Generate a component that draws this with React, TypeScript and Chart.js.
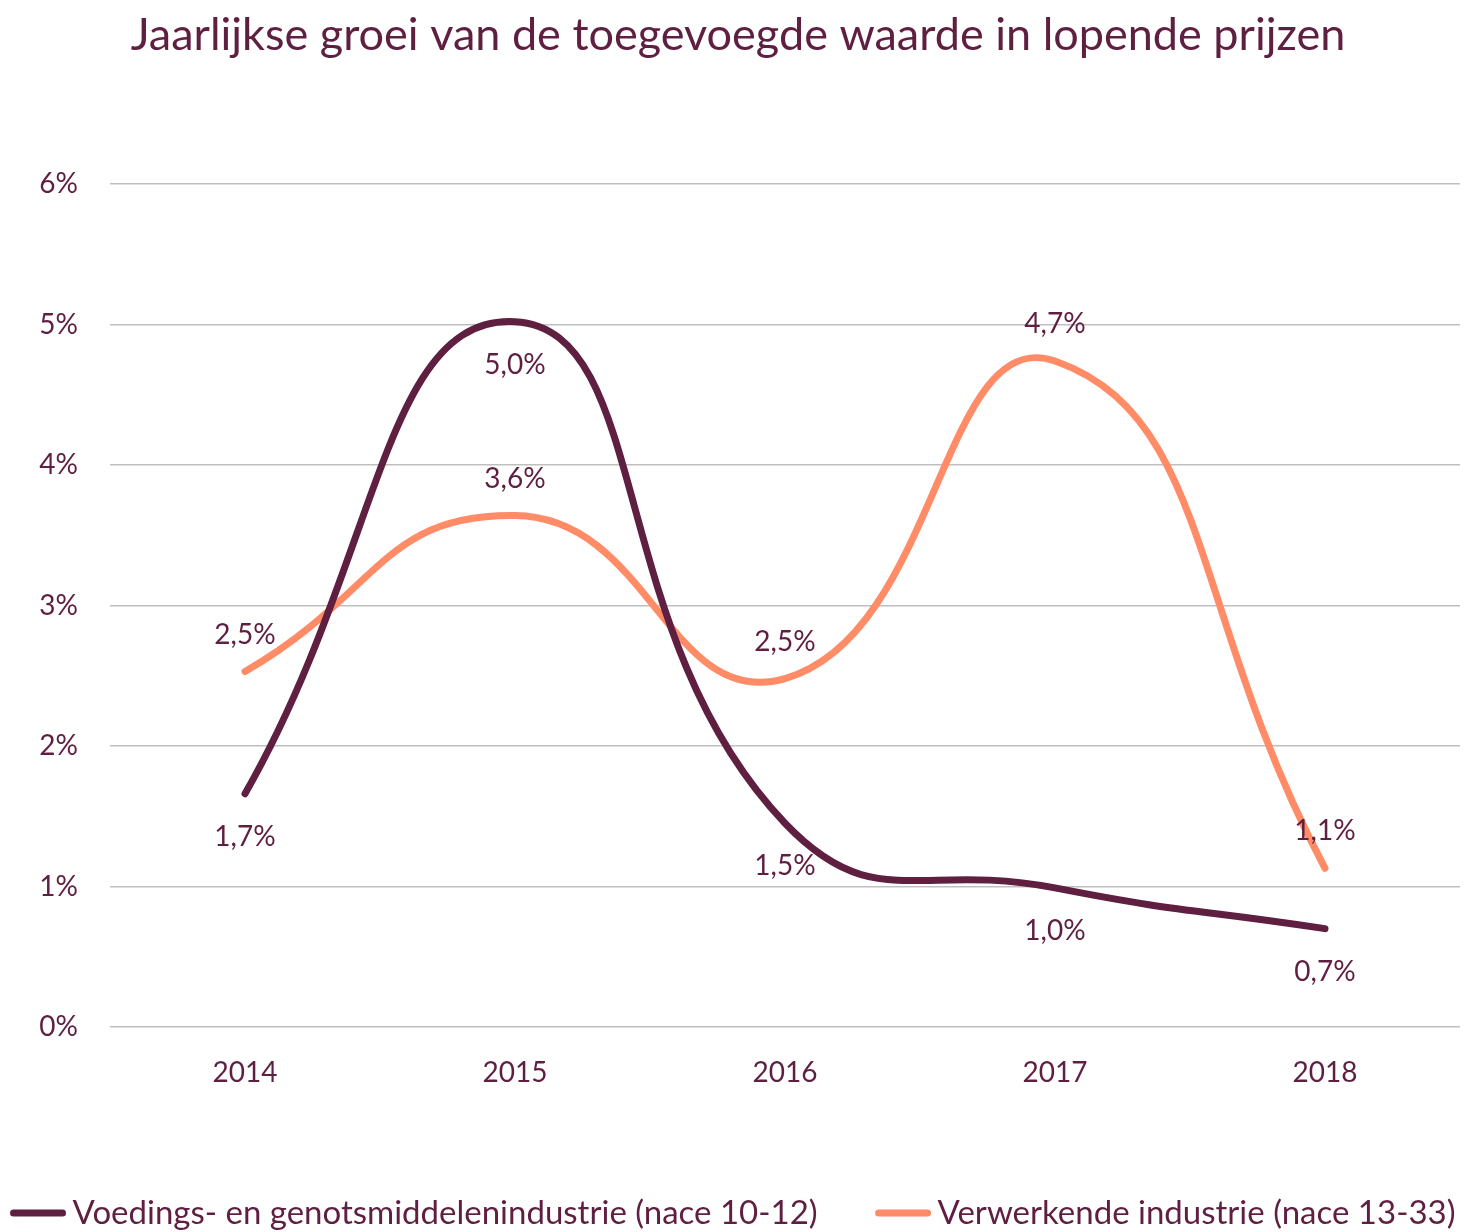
import React, { useEffect, useRef } from "react";
import { Chart, registerables } from "chart.js";

Chart.register(...registerables);

const years = ["2014", "2015", "2016", "2017", "2018"];
const foodSeries = [1.66, 5.02, 1.45, 0.99, 0.7];
const manufacturingSeries = [2.53, 3.64, 2.48, 4.74, 1.13];
const seriesNames = [
  "Voedings- en genotsmiddelenindustrie (nace 10-12)",
  "Verwerkende industrie (nace 13-33)",
];
const yTicks = [0, 1, 2, 3, 4, 5, 6];

const MAROON = "#5f1f40";
const ORANGE = "#ff8c66";
const FONT = "Lato, 'Open Sans', sans-serif";

const fmt = (v: number) => (Math.round(v * 10) / 10).toFixed(1).replace(".", ",") + "%";

const labelPlugin = {
  id: "valueLabels",
  afterDatasetsDraw(chart: any) {
    const ctx = chart.ctx;
    ctx.save();
    ctx.font = `28px ${FONT}`;
    ctx.fillStyle = MAROON;
    ctx.textAlign = "center";
    ctx.textBaseline = "middle";
    chart.data.datasets.forEach((ds: any, i: number) => {
      const meta = chart.getDatasetMeta(i);
      const off = i === 0 ? 43 : -37;
      meta.data.forEach((pt: any, j: number) => {
        ctx.fillText(fmt(ds.data[j]), pt.x, pt.y + off);
      });
    });
    ctx.restore();
  },
};

const legendPlugin = {
  id: "lineLegend",
  afterDraw(chart: any) {
    const ctx = chart.ctx;
    const lineLen = 55;
    const textGap = 7;
    const itemGap = 58;
    const y = 1213;
    ctx.save();
    ctx.font = `33px ${FONT}`;
    ctx.textBaseline = "middle";
    ctx.textAlign = "left";
    const items = chart.data.datasets.map((ds: any) => ({
      label: ds.label,
      color: ds.borderColor,
      w: lineLen + textGap + ctx.measureText(ds.label).width,
    }));
    const total = items.reduce((a: number, it: any) => a + it.w, 0) + itemGap * (items.length - 1);
    let x = (chart.width - total) / 2;
    items.forEach((it: any) => {
      ctx.strokeStyle = it.color;
      ctx.lineWidth = 7;
      ctx.lineCap = "round";
      ctx.beginPath();
      ctx.moveTo(x + 3, y);
      ctx.lineTo(x + lineLen - 3, y);
      ctx.stroke();
      ctx.fillStyle = MAROON;
      ctx.fillText(it.label, x + lineLen + textGap, y);
      x += it.w + itemGap;
    });
    ctx.restore();
  },
};

export default function App() {
  const ref = useRef<HTMLCanvasElement>(null);
  useEffect(() => {
    if (!ref.current) return;
    const chart = new Chart(ref.current, {
      type: "line",
      data: {
        labels: years,
        datasets: [
          {
            label: seriesNames[0],
            data: foodSeries,
            borderColor: MAROON,
            backgroundColor: MAROON,
            borderWidth: 7,
            borderCapStyle: "round",
            tension: 0.5,
            pointRadius: 0,
          },
          {
            label: seriesNames[1],
            data: manufacturingSeries,
            borderColor: ORANGE,
            backgroundColor: ORANGE,
            borderWidth: 7,
            borderCapStyle: "round",
            tension: 0.5,
            pointRadius: 0,
          },
        ],
      },
      options: {
        animation: false,
        responsive: false,
        layout: { padding: { left: 16, right: 6, top: 0, bottom: 135 } },
        plugins: {
          title: {
            display: true,
            text: "Jaarlijkse groei van de toegevoegde waarde in lopende prijzen",
            color: MAROON,
            font: { family: FONT, size: 45, weight: "normal" },
            padding: { top: 8, bottom: 122 },
          },
          legend: { display: false },
          tooltip: { enabled: false },
        },
        scales: {
          x: {
            offset: true,
            grid: { display: false, drawTicks: false },
            border: { display: false },
            ticks: { color: MAROON, font: { family: FONT, size: 28 }, padding: 29 },
            afterFit: (s: any) => {
              s.height = 70;
            },
          },
          y: {
            min: 0,
            max: 6,
            afterBuildTicks: (s: any) => {
              s.ticks = yTicks.map((v) => ({ value: v }));
            },
            grid: { color: "#bfbfbf", lineWidth: 1.5, drawTicks: false },
            border: { display: false },
            ticks: {
              color: MAROON,
              font: { family: FONT, size: 28 },
              padding: 32,
              callback: (v: any) => v + "%",
            },
            afterFit: (s: any) => {
              s.width = 94;
            },
          },
        },
      },
      plugins: [labelPlugin, legendPlugin],
    });
    return () => chart.destroy();
  }, []);
  return (
    <div style={{ position: "fixed", left: 0, top: 0, width: 1466, height: 1232, overflow: "hidden", background: "#fff" }}>
      <canvas ref={ref} width={1466} height={1232} style={{ display: "block" }} />
    </div>
  );
}
